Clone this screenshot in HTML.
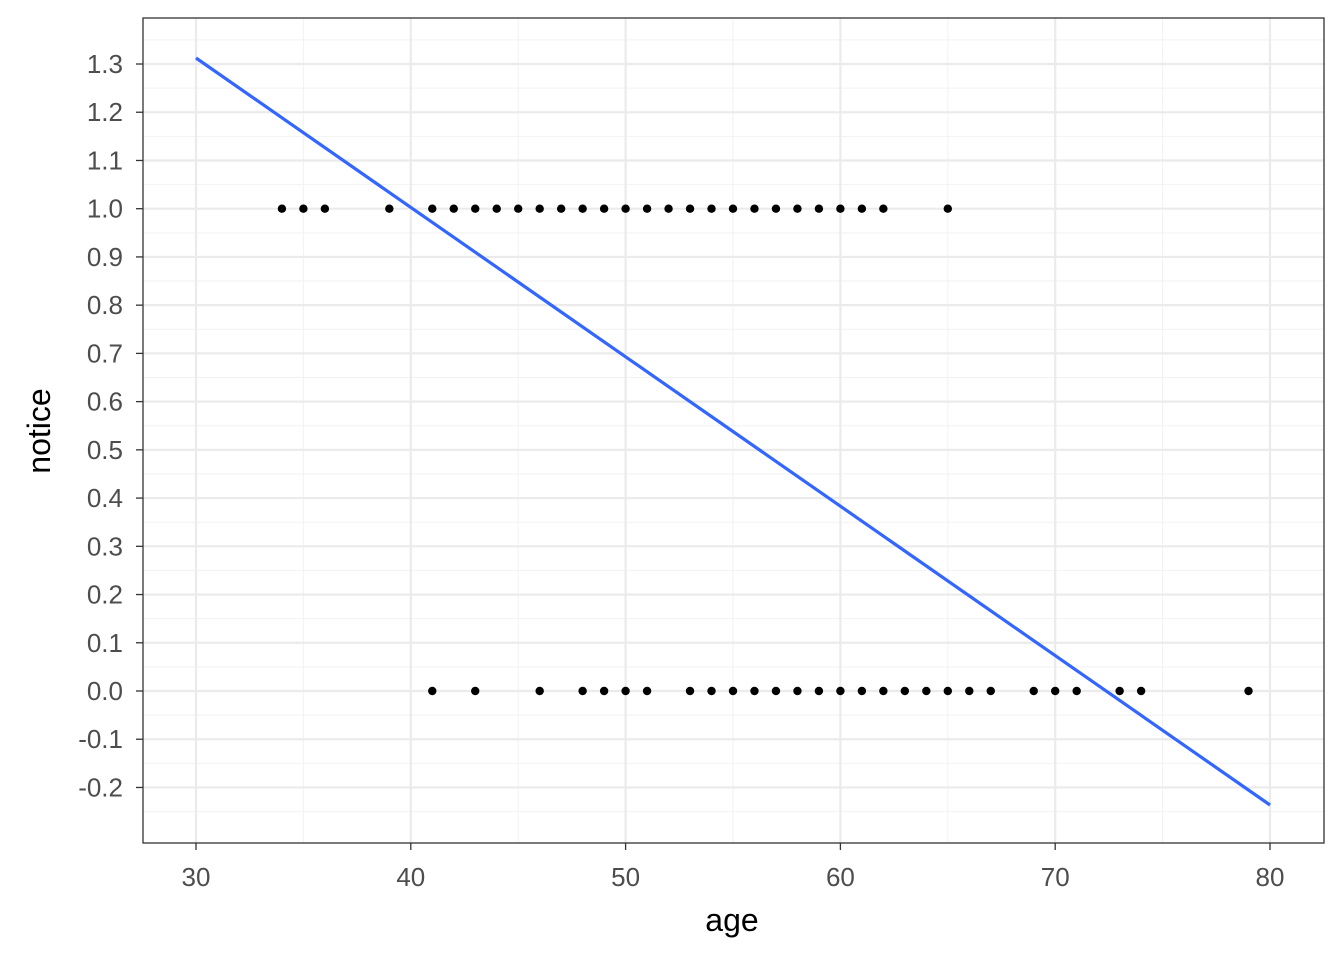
<!DOCTYPE html>
<html><head><style>body{margin:0;background:#fff}svg{display:block}</style></head><body>
<svg width="1344" height="960" xmlns="http://www.w3.org/2000/svg" font-family="Liberation Sans, sans-serif">
<rect width="1344" height="960" fill="#fff"/>
<g id="grid"></g>
<rect x="143" y="18" width="1181" height="825" fill="none" stroke="#333" stroke-width="1.3"/>
<g id="pts"></g>
<line x1="196" y1="58" x2="1270" y2="805" stroke="#3366FF" stroke-width="3.2"/>
<g id="ax" font-size="26" fill="#4d4d4d"></g>
<text x="732" y="931" font-size="32" text-anchor="middle" fill="#000">age</text>
<text transform="translate(50,431) rotate(-90)" font-size="32" text-anchor="middle" fill="#000">notice</text>
<script>
var ns="http://www.w3.org/2000/svg";
function X(a){return 196+(a-30)*21.48}
function Y(v){return 691-v*482.3}
function el(p,t,a,txt){var e=document.createElementNS(ns,t);for(var k in a)e.setAttribute(k,a[k]);if(txt!==undefined)e.textContent=txt;document.getElementById(p).appendChild(e);}
for(var a=35;a<=75;a+=10)el("grid","line",{x1:X(a),x2:X(a),y1:18,y2:843,stroke:"#f2f2f2","stroke-width":1});
for(var i=-5;i<=27;i+=2){var v=i*0.05;el("grid","line",{x1:143,x2:1324,y1:Y(v),y2:Y(v),stroke:"#f2f2f2","stroke-width":1});}
for(var a=30;a<=80;a+=10){el("grid","line",{x1:X(a),x2:X(a),y1:18,y2:843,stroke:"#ebebeb","stroke-width":2.2});
el("ax","line",{x1:X(a),x2:X(a),y1:843,y2:850,stroke:"#333","stroke-width":1.3});
el("ax","text",{x:X(a),y:886,"text-anchor":"middle"},String(a));}
for(var i=-2;i<=13;i++){var v=i/10;el("grid","line",{x1:143,x2:1324,y1:Y(v),y2:Y(v),stroke:"#ebebeb","stroke-width":2.2});
el("ax","line",{x1:136,x2:143,y1:Y(v),y2:Y(v),stroke:"#333","stroke-width":1.3});
el("ax","text",{x:123,y:Y(v)+9,"text-anchor":"end"},v.toFixed(1));}
var one=[34,35,36,39,41,42,43,44,45,46,47,48,49,50,51,52,53,54,55,56,57,58,59,60,61,62,65];
var zero=[41,43,46,48,49,50,51,53,54,55,56,57,58,59,60,61,62,63,64,65,66,67,69,70,71,73,74,79];
one.forEach(function(a){el("pts","circle",{cx:X(a),cy:Y(1),r:4.2,fill:"#000"})});
zero.forEach(function(a){el("pts","circle",{cx:X(a),cy:Y(0),r:4.2,fill:"#000"})});
</script>
</svg>
</body></html>
